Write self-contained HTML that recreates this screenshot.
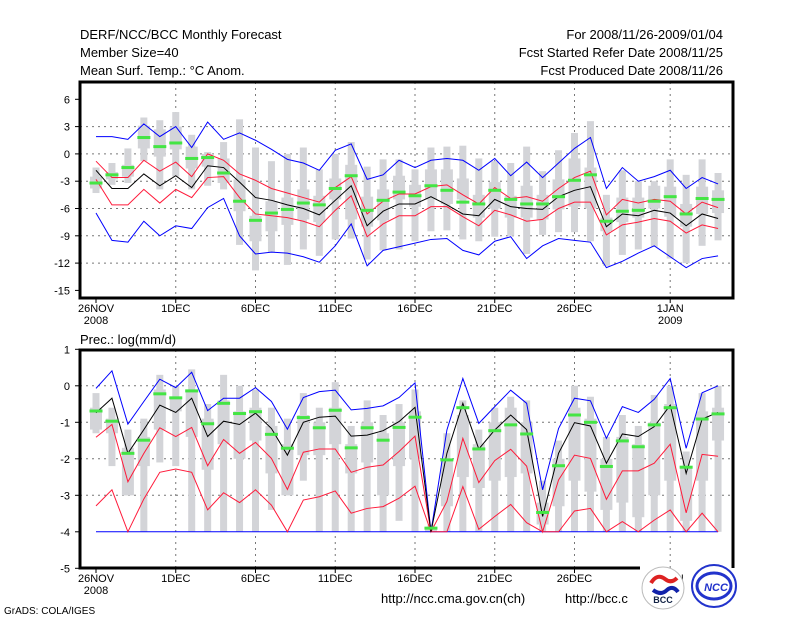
<!DOCTYPE html>
<html><head><meta charset="utf-8"><style>
body{margin:0;background:#fff;}
svg{display:block;font-family:"Liberation Sans",sans-serif;}
</style></head><body>
<svg id="c" width="800" height="618" viewBox="0 0 800 618">
<g font-size="13" fill="#000">
<text x="80" y="39">DERF/NCC/BCC Monthly Forecast</text>
<text x="80" y="57">Member Size=40</text>
<text x="80" y="75">Mean Surf. Temp.: °C Anom.</text>
<text x="723" y="39" text-anchor="end">For 2008/11/26-2009/01/04</text>
<text x="723" y="57" text-anchor="end">Fcst Started Refer Date 2008/11/25</text>
<text x="723" y="75" text-anchor="end">Fcst Produced Date 2008/11/26</text>
<text x="80" y="344">Prec.: log(mm/d)</text>
<text x="381" y="603">http://ncc.cma.gov.cn(ch)</text>
<text x="565" y="603">http://bcc.c</text>
<text x="4" y="614" font-size="10">GrADS: COLA/IGES</text>
</g>
<g id="top"></g>
<g id="bot"></g>
<g>
<circle cx="663" cy="588" r="21" fill="#fff" stroke="#bbb"/>
<path d="M651 583 q6 -10 14 -4 q6 5 12 -1" stroke="#d22" stroke-width="4" fill="none"/>
<path d="M653 590 q8 6 14 0 q6 -5 11 2" stroke="#12a" stroke-width="4" fill="none"/>
<text x="663" y="603" font-size="9" text-anchor="middle" font-weight="bold" fill="#124">BCC</text>
<ellipse cx="714" cy="586" rx="22" ry="21" fill="#fff" stroke="#23c" stroke-width="2"/>
<ellipse cx="714" cy="586" rx="17" ry="13" fill="none" stroke="#23c" stroke-width="3"/>
<text x="716" y="591" font-size="11" text-anchor="middle" font-weight="bold" fill="#23c" font-style="italic">NCC</text>
</g>
</svg>
<script>
const tLabels=["26NOV","1DEC","6DEC","11DEC","16DEC","21DEC","26DEC","1JAN"];
const tIdx=[0,5,10,15,20,25,30,36];
const topTicks=[6,3,0,-3,-6,-9,-12,-15];
const botTicks=[1,0,-1,-2,-3,-4,-5];
// temperature
const tBlack=[-1.8,-3.8,-3.8,-2.2,-3.5,-2.4,-3.7,-1.3,-1.5,-3.1,-4.8,-5.1,-5.6,-6.0,-6.7,-5.1,-3.5,-7.9,-6.3,-5.5,-5.5,-4.7,-5.6,-6.6,-6.8,-5.0,-5.8,-6.0,-6.1,-4.7,-4.0,-3.6,-8.0,-6.6,-6.8,-6.2,-6.5,-7.9,-6.6,-7.1];
const tRedHi=[-0.8,-2.6,-2.6,-0.7,-1.9,-0.9,-2.5,0,-0.7,-2.2,-2.9,-3.8,-4.3,-4.8,-5.3,-3.7,-2.5,-6.6,-5.2,-4.4,-4.4,-3.6,-3.4,-4.5,-5.5,-3.7,-4.9,-4.7,-5.2,-3.8,-2.6,-1.9,-6.7,-5.0,-5.4,-5.0,-5.2,-6.6,-5.3,-5.9];
const tRedLo=[-2.8,-5.6,-5.6,-3.9,-5.4,-3.9,-4.8,-2.6,-2.5,-4.8,-6.6,-6.8,-7.0,-7.4,-8.0,-6.2,-4.6,-9.1,-7.7,-6.8,-6.8,-5.8,-5.8,-6.9,-7.9,-6.2,-6.7,-7.4,-7.2,-6.0,-5.3,-5.3,-8.9,-7.8,-7.5,-7.1,-7.4,-8.7,-7.8,-8.2];
const tBlueHi=[1.9,1.9,1.6,3.3,1.9,3.0,0.7,3.5,1.6,2.3,1.5,0.5,-0.6,-1.0,-1.8,0.4,1.1,-2.8,-2.3,-0.7,-1.5,-0.7,-0.5,-0.7,-1.8,-0.5,-2.4,-0.9,-2.6,-1.0,0.6,1.8,-3.8,-1.5,-3.0,-2.5,-1.8,-3.8,-2.6,-3.3];
const tBlueLo=[-6.5,-9.5,-9.7,-7.4,-9.0,-7.9,-8.2,-5.9,-4.9,-9.0,-11.0,-10.8,-10.9,-11.3,-11.9,-10.1,-7.7,-12.3,-10.6,-10.2,-9.8,-9.4,-9.3,-10.6,-11.1,-9.6,-9.1,-11.5,-10.1,-9.3,-9.5,-9.7,-12.5,-11.8,-10.9,-10.1,-11.3,-12.5,-11.5,-11.2];
const tGreen=[-3.2,-2.3,-1.5,1.8,0.8,1.2,-0.5,-0.4,-2.1,-5.2,-7.3,-6.5,-6.1,-5.4,-5.6,-3.8,-2.4,-6.2,-5.1,-4.2,-4.6,-3.5,-4.0,-5.3,-5.5,-4.0,-5.0,-5.5,-5.5,-4.7,-2.9,-2.3,-7.4,-6.3,-6.2,-5.2,-4.7,-6.6,-4.9,-5.0];
const tMax=[-1.5,-1.0,0.6,4.0,3.7,4.6,2.1,0.2,1.3,3.8,0.7,-0.8,0.0,0.7,-1.7,0.0,1.3,-1.4,-0.6,-0.6,-1.7,0.7,0.8,0.9,-0.5,-0.8,-1.0,0.8,-1.9,0.4,2.3,3.6,-4.5,-1.8,-3.0,-3.0,-0.6,-2.3,-0.6,-2.1];
const tQ3=[-2.5,-2.0,-1.2,3.1,2.7,3.0,0.8,0,-0.5,-2.8,-6.8,-5.2,-4.8,-3.9,-4.6,-2.7,-1.2,-4.7,-3.9,-2.4,-3.4,-1.7,-1.7,-2.7,-4.5,-3.1,-4.6,-3.5,-4.5,-2.8,-0.5,-1.5,-7.0,-4.8,-4.8,-3.5,-3.6,-5.5,-3.6,-4.0];
const tQ1=[-3.8,-2.8,-2.5,0.6,-0.3,0.5,-1.6,-1.4,-3.2,-6.3,-9.6,-8.5,-7.8,-7.2,-7.5,-5.0,-7.2,-8.0,-7.3,-5.0,-5.8,-5.0,-5.5,-5.0,-7.0,-6.0,-7.0,-7.0,-7.2,-6.1,-5.8,-6.0,-8.5,-7.5,-7.0,-6.0,-6.9,-8.0,-6.6,-6.5];
const tMin=[-4.3,-3.4,-3.2,-0.8,-3.9,-2.5,-3.9,-3.5,-3.9,-10.0,-12.8,-10.8,-12.2,-10.5,-11.2,-9.4,-9.3,-11.6,-10.6,-10.5,-9.6,-8.5,-8.4,-9.4,-9.6,-9.1,-9.0,-11.0,-8.9,-8.6,-8.6,-9.6,-12.3,-11.1,-10.5,-10.2,-11.5,-12.0,-10.1,-9.5];
// precipitation
const pBlack=[-0.74,-0.34,-1.85,-1.2,-0.53,-0.73,-0.34,-1.39,-0.97,-1.06,-0.75,-1.17,-1.9,-1.0,-0.86,-0.83,-1.38,-1.35,-1.23,-0.98,-0.59,-4,-1.85,-0.48,-1.73,-1.21,-0.8,-1.2,-3.58,-1.85,-1.01,-1.1,-2.12,-1.32,-1.39,-1.12,-0.53,-2.4,-0.91,-0.73];
const pBlueHi=[-0.07,0.41,-1.05,-0.43,0.18,-0.05,0.37,-0.68,-0.34,-0.34,-0.05,-0.43,-1.19,-0.32,-0.16,-0.12,-0.66,-0.62,-0.55,-0.32,0.08,-4,-1.21,0.2,-1.03,-0.57,-0.12,-0.48,-2.85,-1.17,-0.34,-0.41,-1.44,-0.57,-0.73,-0.37,0.2,-1.71,-0.19,0.0];
const pRedHi=[-1.41,-1.06,-2.63,-1.85,-1.15,-1.39,-1.14,-2.19,-1.47,-1.85,-1.55,-1.99,-2.84,-1.82,-1.73,-1.73,-2.37,-2.23,-2.17,-1.8,-1.38,-4,-3.17,-1.44,-2.65,-2.05,-1.74,-2.2,-4,-2.58,-1.9,-1.99,-3.11,-2.33,-2.33,-2.12,-1.6,-3.48,-1.88,-1.93];
const pRedLo=[-3.29,-2.85,-4,-3.1,-2.37,-2.28,-2.37,-3.4,-2.93,-3.2,-2.85,-3.27,-4,-3.13,-3.04,-2.88,-3.49,-3.36,-3.31,-3.08,-2.75,-4,-4,-2.76,-3.93,-3.58,-3.25,-3.75,-4,-4,-3.43,-3.36,-4,-3.72,-4,-3.68,-3.4,-4,-3.49,-4];
const pBlueLo=[-4,-4,-4,-4,-4,-4,-4,-4,-4,-4,-4,-4,-4,-4,-4,-4,-4,-4,-4,-4,-4,-4,-4,-4,-4,-4,-4,-4,-4,-4,-4,-4,-4,-4,-4,-4,-4,-4,-4,-4];
const pGreen=[-0.69,-0.97,-1.85,-1.49,-0.22,-0.33,-0.14,-1.04,-0.48,-0.76,-0.71,-1.33,-1.71,-0.87,-1.15,-0.67,-1.7,-1.15,-1.49,-1.14,-0.86,-3.9,-2.03,-0.6,-1.73,-1.23,-1.07,-1.32,-3.47,-2.19,-0.8,-1.0,-2.21,-1.51,-1.67,-1.07,-0.6,-2.23,-0.91,-0.77];
const pMax=[-0.2,-0.6,-1.2,-0.9,0.3,0.0,0.45,-0.5,0.3,0.0,-0.1,-0.6,-0.9,-0.2,-0.6,0.1,-1.1,-0.4,-0.8,-0.5,-0.1,-3.8,-1.3,-0.4,-1.2,-0.6,-0.3,-0.4,-2.6,-1.5,0,-0.3,-1.4,-0.8,-1.1,-0.25,0,-1.8,-0.2,0];
const pQ3=[-0.6,-0.9,-1.7,-1.4,-0.1,-0.3,-0.1,-0.9,-0.4,-0.7,-0.6,-1.1,-1.6,-0.8,-1.0,-0.6,-1.6,-1.0,-1.3,-1.0,-0.7,-3.9,-2.0,-0.8,-1.6,-1.0,-0.6,-1.0,-3.2,-2.0,-0.6,-0.9,-2.0,-1.4,-1.6,-1.0,-0.5,-2.2,-0.7,-0.6];
const pQ1=[-1.2,-1.3,-3.0,-2.2,-1.2,-0.7,-1.4,-2.3,-1.6,-2.0,-1.5,-2.4,-3.0,-1.9,-1.9,-1.6,-2.4,-2.1,-3.0,-2.2,-2.0,-4,-3.3,-2.5,-2.8,-2.6,-2.5,-2.4,-3.8,-3.3,-2.6,-2.9,-3.4,-3.2,-3.6,-3.0,-2.6,-3.7,-2.6,-1.5];
const pMin=[-1.3,-2.2,-3.0,-4,-2.1,-2.2,-4,-4,-4,-4,-4,-3.4,-3.0,-2.6,-4,-4,-4,-4,-4,-3.7,-4,-4,-4,-4,-4,-4,-4,-4,-4,-4,-4,-4,-4,-4,-4,-4,-4,-4,-4,-4];

const NS='http://www.w3.org/2000/svg';
function mk(p,tag,at){const e=document.createElementNS(NS,tag);for(const k in at)e.setAttribute(k,at[k]);p.appendChild(e);return e;}
const x=i=>96+i*15.95;
function panel(g,o){
  const y=v=>o.y0-(v-o.vTop)*o.k;
  // grid
  o.ticks.forEach(t=>{
    if(t!==o.ticks[0]&&t!==o.ticks[o.ticks.length-1]&&t!==o.skip){
      const l=mk(g,'line',{x1:80,x2:733,y1:y(t),y2:y(t),stroke:'#777','stroke-dasharray':'2,4','stroke-width':1});
      }
    const tk=mk(g,'line',{x1:75,x2:80,y1:y(t),y2:y(t),stroke:'#000'});
    const tx=mk(g,'text',{x:70,y:y(t)+4,'text-anchor':'end','font-size':11});tx.textContent=t;
    
  });
  tIdx.forEach((d,j)=>{
    if(j>0){const l=mk(g,'line',{x1:x(d),x2:x(d),y1:o.top,y2:o.bot,stroke:'#777','stroke-dasharray':'2,4'});
      }
    mk(g,'line',{x1:x(d),x2:x(d),y1:o.bot,y2:o.bot+5,stroke:'#000'});
    const tx=mk(g,'text',{x:x(d),y:o.bot+14,'text-anchor':'middle','font-size':11});tx.textContent=tLabels[j];
    
  });
  [[0,'2008'],[36,'2009']].forEach(a=>{const t=mk(g,'text',{x:x(a[0]),y:o.bot+26,'text-anchor':'middle','font-size':11});t.textContent=a[1];
    });
  // boxes
  for(let i=0;i<o.max.length;i++){
    const w=mk(g,'rect',{x:x(i)-3.5,width:7,y:y(o.max[i]),height:Math.max(1,y(o.min[i])-y(o.max[i])),fill:'#d3d4d8'});
    
    const b=mk(g,'rect',{x:x(i)-6,width:12,y:y(o.q3[i]),height:Math.max(1,y(o.q1[i])-y(o.q3[i])),fill:'#d3d4d8'});
    
  }
  o.lines.forEach(L=>{
    const pl=mk(g,'polyline',{points:L[0].map((v,i)=>x(i)+','+y(v)).join(' '),fill:'none',stroke:L[1],'stroke-width':1});
    
  });
  o.green.forEach((v,i)=>{const r=mk(g,'rect',{x:x(i)-6.5,width:13,y:y(v)-1.5,height:3,fill:'#44e544'});
    });
  const f=mk(g,'path',{d:o.frame,fill:'none',stroke:'#000','stroke-width':3});
  
}
panel(document.getElementById('top'),{y0:99.3,vTop:6,k:9.1,ticks:topTicks,top:82,bot:298,
  max:tMax,q3:tQ3,q1:tQ1,min:tMin,green:tGreen,
  lines:[[tBlueHi,'#0000ff','blue-upper-line'],[tBlueLo,'#0000ff','blue-lower-line'],[tRedHi,'#ff1a3a','red-upper-line'],[tRedLo,'#ff1a3a','red-lower-line'],[tBlack,'#000','ensemble-mean-line']],
  frame:'M80 82 H733 V298 H80 Z'});
panel(document.getElementById('bot'),{y0:349.3,vTop:1,k:36.5,ticks:botTicks,top:350,bot:568,skip:-4,
  max:pMax,q3:pQ3,q1:pQ1,min:pMin,green:pGreen,
  lines:[[pBlueLo,'#0000ff','blue-lower-line'],[pBlueHi,'#0000ff','blue-upper-line'],[pRedHi,'#ff1a3a','red-upper-line'],[pRedLo,'#ff1a3a','red-lower-line'],[pBlack,'#000','ensemble-mean-line']],
  frame:'M640 568 H80 V350 H733 V568'});
</script>
</body></html>
